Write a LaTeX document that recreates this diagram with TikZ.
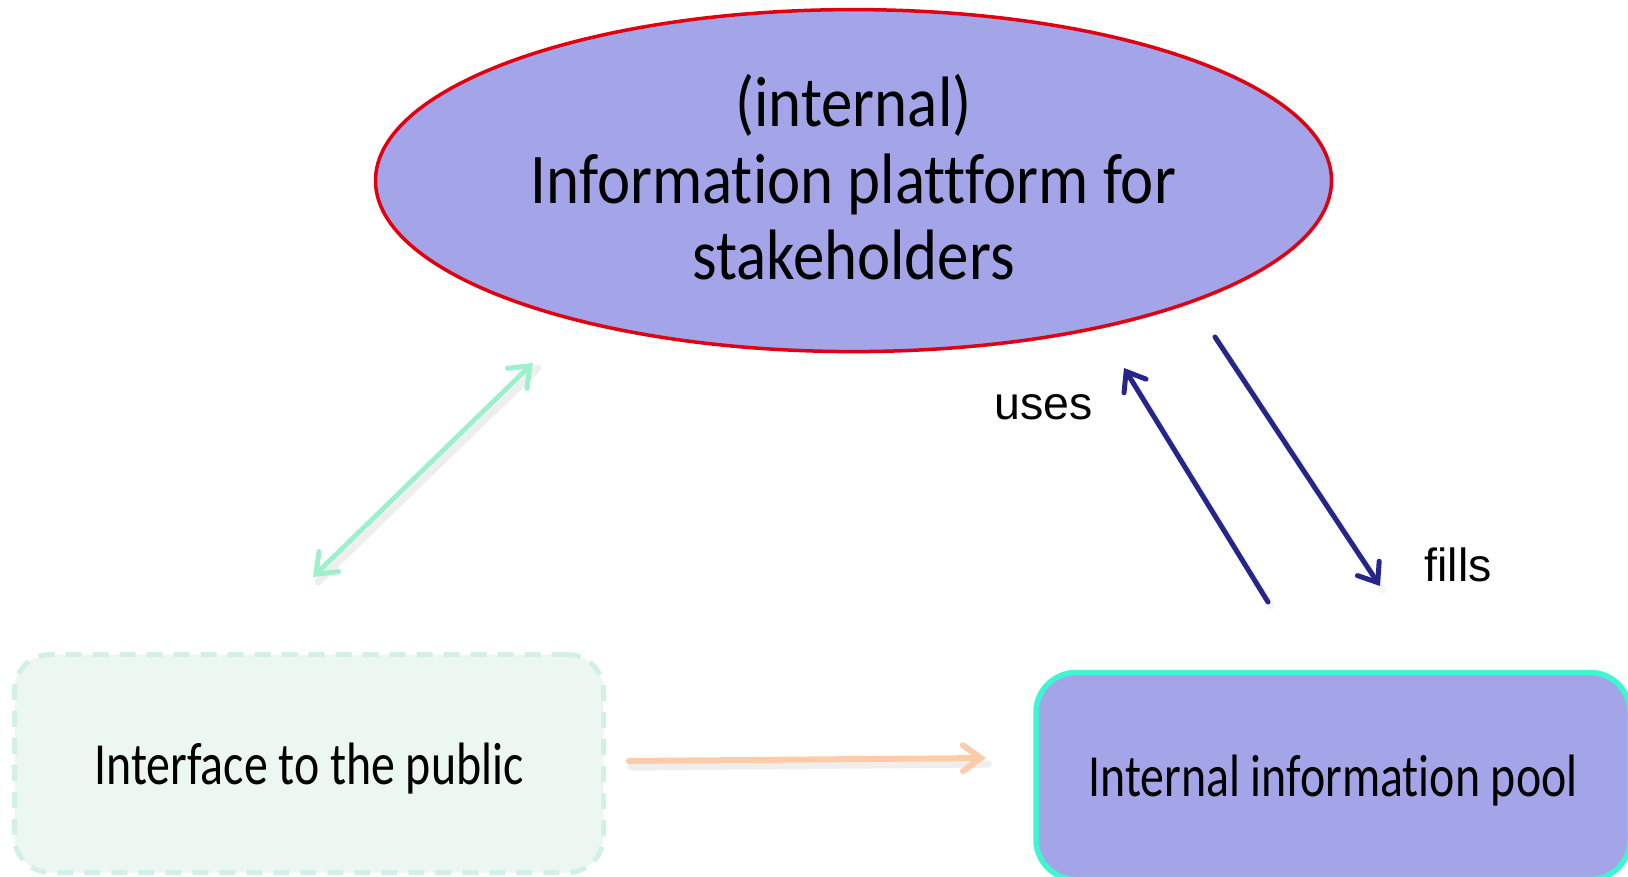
\documentclass[tikz,border=0pt]{standalone}
\usepackage{fontspec}
\usetikzlibrary{arrows.meta,shapes.geometric}
\newfontfamily\ellfont[FakeStretch=0.88,Ligatures=NoCommon]{Carlito}
\newfontfamily\boxfont[FakeStretch=0.80,Ligatures=NoCommon]{Carlito}
\newfontfamily\lblfont{Liberation Sans}
\definecolor{lav}{HTML}{A4A5E8}
\definecolor{ellred}{HTML}{E0000F}
\definecolor{mintfill}{HTML}{EDF7F2}
\definecolor{mintdash}{HTML}{D2F0E3}
\definecolor{turq}{HTML}{40F5D2}
\definecolor{peach}{HTML}{FFCBA8}
\definecolor{mintarrow}{HTML}{9CF0CC}
\definecolor{navy}{HTML}{26268A}
\begin{document}
\begin{tikzpicture}[x=1pt,y=-1pt,
  elltext/.style={anchor=base, inner sep=0pt, font=\ellfont\fontsize{71.4}{76.8}\selectfont},
  boxtext/.style={font=\boxfont\fontsize{59.8}{72}\selectfont, text height=41pt, text depth=0pt},
  lbl/.style={anchor=base, inner sep=0pt, font=\lblfont\fontsize{46.5}{56}\selectfont},
  shade/.style={draw=black!30, opacity=0.22, line width=7pt, line cap=round},
  conn/.style={line width=5pt, line cap=round}]
\clip (0,0) rectangle (1628,877);
\fill[white] (0,0) rectangle (1628,877);

% nodes
\node[ellipse, draw=ellred, line width=3.5pt, fill=lav, minimum width=956pt, minimum height=342pt, inner sep=0pt] (plat) at (853.5,180.6) {};
\node[elltext] (l1) at (853.5,126.7) {(internal)};
\node[elltext] (l2) at (853.5,203.5) {Information plattform for};
\node[elltext] (l3) at (853.5,280) {stakeholders};

\node[rectangle, rounded corners=36pt, draw=mintdash, dash pattern=on 16pt off 11pt, line width=5pt, fill=mintfill, minimum width=589pt, minimum height=218pt, boxtext] (pub) at (309,763.5) {Interface to the public};

\node[rectangle, rounded corners=40pt, draw=turq, line width=5.5pt, fill=lav, minimum width=594pt, minimum height=207pt, boxtext, text height=40pt] (pool) at (1333,776) {Internal information pool};

\node[lbl] (uses) at (1043.5,419.5) {uses};
\node[lbl] (fills) at (1458,581.5) {fills};

% connector end points
\coordinate (pa) at (629,761);
\coordinate (pb) at (986,758);
\coordinate (ga) at (313,577);
\coordinate (gb) at (533,363);
\coordinate (ua) at (1268,602);
\coordinate (ub) at (1124,368);
\coordinate (fa) at (1215,337);
\coordinate (fb) at (1380,586);

% soft shadows
\draw[shade] ([shift={(2,6)}]pa) -- ([shift={(2,6)}]pb);
\draw[shade] ([shift={(5,5)}]ga) -- ([shift={(5,5)}]gb);
\draw[shade, opacity=0.12] ([shift={(3,4)}]ua) -- ([shift={(3,4)}]ub);
\draw[shade, opacity=0.12] ([shift={(3,4)}]fa) -- ([shift={(3,4)}]fb);

% connectors
\draw[conn, line width=6pt, draw=peach, -{Straight Barb[length=18pt,width=26pt,line cap=round]}] (pa) -- (pb);
\draw[conn, draw=mintarrow, {Straight Barb[length=18pt,width=28pt,line cap=round]}-{Straight Barb[length=18pt,width=28pt,line cap=round]}] (ga) -- (gb);
\draw[conn, draw=navy, -{Straight Barb[length=17pt,width=26pt,line cap=round]}] (ua) -- (ub);
\draw[conn, draw=navy, -{Straight Barb[length=17pt,width=26pt,line cap=round]}] (fa) -- (fb);
\end{tikzpicture}
\end{document}
